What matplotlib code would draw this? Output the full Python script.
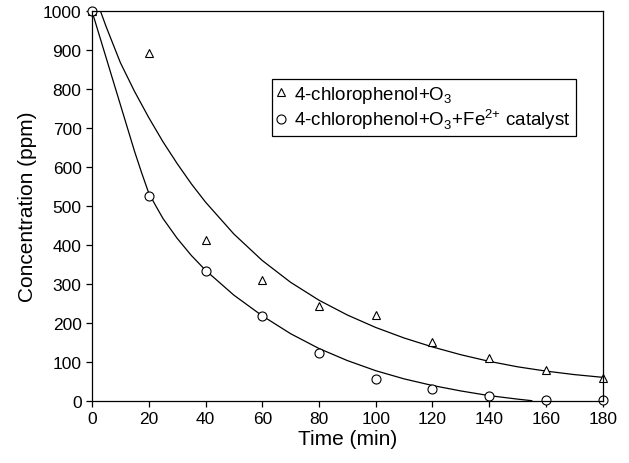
import matplotlib
matplotlib.use("Agg")
import matplotlib.pyplot as plt

plt.rcParams["font.family"] = ["Liberation Sans", "DejaVu Sans"]
plt.rcParams["mathtext.fontset"] = "custom"
plt.rcParams["mathtext.rm"] = "Liberation Sans"

# measured points
time_pts = [0, 20, 40, 60, 80, 100, 120, 140, 160, 180]
o3_only = [1000, 894, 413, 311, 244, 220, 150, 110, 79, 57]
o3_fe = [1000, 526, 334, 218, 122, 56, 30, 11, 3, 3]

# fitted curves
fit_t_upper = [3, 5, 10, 15, 20, 25, 30, 35, 40, 50, 60, 70, 80, 90, 100, 110, 120, 130, 140, 150, 160, 170, 180]
fit_upper = [1000, 960, 868, 794, 727, 665, 609, 557, 510, 428, 360, 304, 258, 220, 188, 161, 138, 118, 101, 87, 76, 67, 60]
fit_t_lower = [0, 5, 10, 15, 17.5, 20, 22.5, 25, 30, 35, 40, 50, 60, 70, 80, 90, 100, 110, 120, 130, 140, 150, 155]
fit_lower = [1000, 880, 760, 640, 585, 533, 500, 468, 417, 373, 335, 271, 218, 172, 134, 103, 77, 56, 39, 25, 13, 4, 0]

fig = plt.figure(figsize=(6.29, 4.64), dpi=100)
ax = fig.add_axes([0.1463, 0.1343, 0.8119, 0.8392])

ax.plot(fit_t_upper, fit_upper, color="black", lw=0.9)
ax.plot(fit_t_lower, fit_lower, color="black", lw=0.9)
ax.plot(time_pts, o3_only, linestyle="none", marker="^", markersize=5.5,
        markerfacecolor="white", markeredgecolor="black", markeredgewidth=0.8,
        label="4-chlorophenol+O$_3$", clip_on=False)
ax.plot(time_pts, o3_fe, linestyle="none", marker="o", markersize=6.5,
        markerfacecolor="white", markeredgecolor="black", markeredgewidth=0.8,
        label="4-chlorophenol+O$_3$+Fe$^{2{+}}$ catalyst", clip_on=False)

ax.set_xlim(0, 180)
ax.set_ylim(0, 1000)
ax.set_xticks(range(0, 181, 20))
ax.set_yticks(range(0, 1001, 100))
ax.tick_params(direction="out", length=4, width=0.9, labelsize=12.5, colors="black")
for sp in ax.spines.values():
    sp.set_linewidth(0.9)

ax.set_xlabel("Time (min)", fontsize=15, labelpad=2)
ax.set_ylabel("Concentration (ppm)", fontsize=15)

leg = ax.legend(loc="upper left", bbox_to_anchor=(0.352, 0.826), fontsize=13.5,
                frameon=True, fancybox=False, edgecolor="black", framealpha=1,
                handlelength=0.5, handletextpad=0.45, borderpad=0.25,
                labelspacing=0.1, borderaxespad=0)
leg.get_frame().set_linewidth(0.9)

fig.savefig("out.png", dpi=100)
